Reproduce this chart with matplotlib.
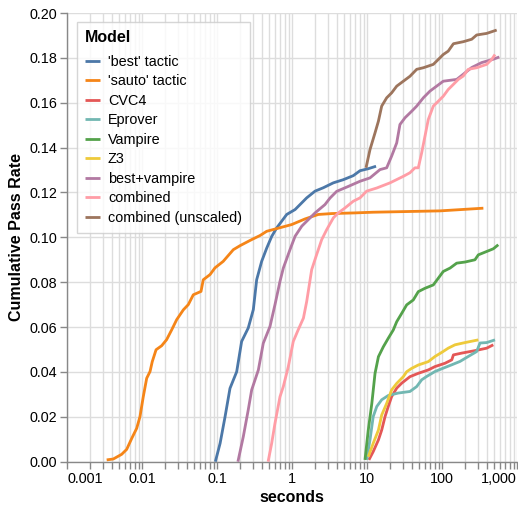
import matplotlib
matplotlib.use("Agg")
import matplotlib.pyplot as plt
from matplotlib.ticker import LogLocator, FixedFormatter, FixedLocator, NullFormatter

plt.rcParams['font.family'] = ['Liberation Sans', 'DejaVu Sans']

# Cumulative pass rate vs. time (seconds) per model
best_t = [0.095, 0.110, 0.128, 0.149, 0.183, 0.213, 0.261, 0.305, 0.338, 0.394, 0.460, 0.536,
          0.625, 0.729, 0.85, 1.10, 1.57, 2.03, 2.61, 3.56, 4.83, 6.56, 8.07, 10.4, 13.2]
best_r = [0.0, 0.0082, 0.0200, 0.0327, 0.0401, 0.0536, 0.0596, 0.0678, 0.0811, 0.0893, 0.0952,
          0.1004, 0.1042, 0.1072, 0.1102, 0.1124, 0.1176, 0.1206, 0.1221, 0.1243, 0.1257,
          0.1275, 0.1297, 0.1306, 0.1317]

sauto_t = [0.00338, 0.00414, 0.00536, 0.00625, 0.0073, 0.0085, 0.0094, 0.0104, 0.01155, 0.0128,
           0.0137, 0.0154, 0.0183, 0.0213, 0.0249, 0.0290, 0.0356, 0.0414, 0.0483, 0.0612,
           0.0656, 0.0807, 0.094, 0.121, 0.165, 0.203, 0.290, 0.374, 0.460, 0.625, 0.99, 1.49,
           2.24, 3.38, 6.92, 12.0, 94, 356]
sauto_r = [0.0008, 0.0012, 0.0033, 0.0055, 0.0104, 0.0149, 0.0201, 0.0290, 0.0372, 0.0402,
           0.0446, 0.0499, 0.0517, 0.0544, 0.0588, 0.0633, 0.0677, 0.0700, 0.0744, 0.0759,
           0.0811, 0.0834, 0.0864, 0.0893, 0.0945, 0.0963, 0.0990, 0.1008, 0.1027, 0.1039,
           0.1057, 0.1082, 0.1102, 0.1106, 0.1109, 0.1112, 0.1118, 0.1130]

cvc4_t = [10.6, 12.1, 14.2, 15.7, 17.4, 19.2, 21.3, 24.9, 29.0, 37.4, 48.3, 65.6, 80.7, 110,
          135, 142, 183, 275, 394, 483]
cvc4_r = [0.0008, 0.0045, 0.0097, 0.0141, 0.0201, 0.0246, 0.0290, 0.0328, 0.0350, 0.0379,
          0.0394, 0.0409, 0.0424, 0.0439, 0.0454, 0.0476, 0.0484, 0.0495, 0.0506, 0.0521]

eprover_t = [9.9, 10.96, 12.1, 13.5, 15.7, 19.2, 26.1, 37.4, 46.0, 53.6, 62.5, 80.7, 104, 135,
             174, 224, 290, 321, 394, 509]
eprover_r = [0.0008, 0.0097, 0.0201, 0.0246, 0.0276, 0.0295, 0.0306, 0.0313, 0.0335, 0.0365,
             0.0380, 0.0402, 0.0417, 0.0432, 0.0447, 0.0469, 0.0491, 0.0529, 0.0531, 0.0543]

vampire_t = [9.4, 10.4, 11.6, 12.8, 14.2, 16.5, 19.2, 22.4, 24.9, 29.0, 33.8, 41.4, 48.3, 59.3,
             76.6, 89.3, 104, 128, 157, 203, 275, 305, 394, 483, 563]
vampire_r = [0.0008, 0.0141, 0.0260, 0.0394, 0.0468, 0.0512, 0.0550, 0.0587, 0.0624, 0.0661,
             0.0699, 0.0721, 0.0758, 0.0773, 0.0788, 0.0818, 0.0848, 0.0863, 0.0885, 0.0890,
             0.0900, 0.0922, 0.0937, 0.0949, 0.0967]

z3_t = [10.4, 12.1, 14.2, 15.7, 18.3, 21.3, 24.9, 30.5, 33.8, 39.4, 48.3, 65.6, 80.7, 99, 121,
        149, 203, 305]
z3_r = [0.0022, 0.0082, 0.0141, 0.0208, 0.0260, 0.0320, 0.0349, 0.0379, 0.0401, 0.0416, 0.0431,
        0.0446, 0.0469, 0.0487, 0.0506, 0.0521, 0.0531, 0.0543]

bestvamp_t = [0.19, 0.224, 0.261, 0.290, 0.356, 0.414, 0.509, 0.593, 0.692, 0.766, 0.94, 1.10,
              1.35, 1.65, 2.03, 2.75, 3.21, 3.94, 5.63, 8.07, 10.96, 14.9, 18.3, 21.3, 24.9,
              27.5, 32.1, 39.4, 46.0, 56.4, 69.2, 84.9, 104, 157, 192, 249, 338, 483, 581]
bestvamp_r = [0.0, 0.0111, 0.0231, 0.0320, 0.0409, 0.0528, 0.0603, 0.0700, 0.0804, 0.0863,
              0.0945, 0.1005, 0.1050, 0.1079, 0.1109, 0.1146, 0.1175, 0.1205, 0.1227, 0.1250,
              0.1265, 0.1302, 0.1310, 0.1362, 0.1421, 0.1503, 0.1533, 0.1562, 0.1585, 0.1622,
              0.1652, 0.1674, 0.1696, 0.1704, 0.1727, 0.1757, 0.1779, 0.1794, 0.1804]

combined_t = [0.48, 0.536, 0.593, 0.692, 0.766, 0.893, 1.04, 1.21, 1.42, 1.57, 1.83, 2.13, 2.49,
              2.90, 3.56, 4.14, 5.09, 6.56, 8.07, 9.9, 13.5, 20.3, 30.5, 37.4, 43.6, 48.3, 53.6,
              59.3, 65.6, 76.6, 89.3, 104, 121, 142, 165, 192, 224, 290, 394, 460, 509]
combined_r = [0.0, 0.0082, 0.0171, 0.0290, 0.0335, 0.0424, 0.0536, 0.0588, 0.0640, 0.0714,
              0.0856, 0.0923, 0.0990, 0.1034, 0.1087, 0.1109, 0.1131, 0.1161, 0.1176, 0.1206,
              0.1220, 0.1243, 0.1272, 0.1288, 0.1310, 0.1310, 0.1377, 0.1451, 0.1525, 0.1585,
              0.1607, 0.1629, 0.1659, 0.1682, 0.1704, 0.1719, 0.1749, 0.1756, 0.1771, 0.1793,
              0.1815]

unscaled_t = [9.7, 10.96, 12.8, 14.2, 15.7, 18.3, 21.3, 24.9, 30.5, 37.4, 46.0, 56.4, 76.6, 89.3,
              104, 121, 142, 192, 249, 290, 394, 536]
unscaled_r = [0.1310, 0.1391, 0.1466, 0.1518, 0.1585, 0.1622, 0.1644, 0.1674, 0.1696, 0.1718,
              0.1749, 0.1756, 0.1771, 0.1793, 0.1815, 0.1830, 0.1863, 0.1872, 0.1883, 0.1902,
              0.1909, 0.1924]

models = ["'best' tactic", "'sauto' tactic", "CVC4", "Eprover", "Vampire", "Z3",
          "best+vampire", "combined", "combined (unscaled)"]
series = [(best_t, best_r), (sauto_t, sauto_r), (cvc4_t, cvc4_r), (eprover_t, eprover_r),
          (vampire_t, vampire_r), (z3_t, z3_r), (bestvamp_t, bestvamp_r),
          (combined_t, combined_r), (unscaled_t, unscaled_r)]
colors = ["#4c78a8", "#f58518", "#e45756", "#72b7b2", "#54a24b", "#eeca3b",
          "#b279a2", "#ff9da6", "#9d755d"]

major_ticks = [0.001, 0.01, 0.1, 1, 10, 100, 1000]
major_labels = ["0.001", "0.01", "0.1", "1", "10", "100", "1,000"]
y_ticks = [0.00, 0.02, 0.04, 0.06, 0.08, 0.10, 0.12, 0.14, 0.16, 0.18, 0.20]

PX = 1 / 100 * 72  # points per pixel at dpi 100
LABEL_PX = 14.4
TITLE_PX = 16.0

fig = plt.figure(figsize=(5.18, 5.08), dpi=100)
ax = fig.add_axes([67 / 518, 46.3 / 508, 450 / 518, 448.7 / 508])

for name, (t, r), c in zip(models, series, colors):
    ax.plot(t, r, color=c, lw=2.8 * PX, label=name, solid_joinstyle='round',
            solid_capstyle='butt', zorder=3)

ax.set_xscale('log')
ax.set_xlim(0.001, 1000)
ax.set_ylim(0, 0.2)

ax.xaxis.set_major_locator(FixedLocator(major_ticks))
ax.xaxis.set_major_formatter(FixedFormatter(major_labels))
ax.xaxis.set_minor_locator(LogLocator(base=10, subs=range(2, 10), numticks=50))
ax.xaxis.set_minor_formatter(NullFormatter())
ax.set_yticks(y_ticks)
ax.set_yticklabels([f"{v:.2f}" for v in y_ticks])

grid_c = "#dddddd"
ax.grid(True, which='both', axis='x', color=grid_c, lw=1.4 * PX, zorder=0)
ax.grid(True, which='major', axis='y', color=grid_c, lw=1.4 * PX, zorder=0)
ax.set_axisbelow(True)

for side in ('top', 'right'):
    ax.spines[side].set_visible(False)
for side in ('left', 'bottom'):
    ax.spines[side].set_color('#888888')
    ax.spines[side].set_linewidth(1.4 * PX)

ax.tick_params(axis='both', which='both', length=7.2 * PX, width=1.4 * PX, color='#888888',
               labelsize=LABEL_PX * PX, pad=2.5 * PX)
ax.tick_params(axis='x', which='major', pad=3 * PX)

xl = ax.get_xticklabels()
xl[0].set_horizontalalignment('left')
xl[-1].set_horizontalalignment('right')

ax.set_xlabel('seconds', fontsize=TITLE_PX * PX, fontweight='bold', labelpad=4 * PX)
ax.set_ylabel('Cumulative Pass Rate', fontsize=TITLE_PX * PX, fontweight='bold',
              labelpad=5 * PX)

leg = ax.legend(loc='upper left', bbox_to_anchor=(10 / 450, 439.7 / 448.7), title='Model',
                fontsize=LABEL_PX * PX, title_fontproperties={'weight': 'bold', 'size': TITLE_PX * PX},
                frameon=True, fancybox=False, handlelength=1.05, handletextpad=0.55,
                labelspacing=0.38, borderpad=0.55, alignment='left', borderaxespad=0)
# extra room between the legend title and its entries
leg._legend_box.sep = 10 * PX
leg.get_frame().set_edgecolor('#cccccc')
leg.get_frame().set_linewidth(1.4 * PX)
leg.set_zorder(5)

fig.savefig('out.png', dpi=100)
